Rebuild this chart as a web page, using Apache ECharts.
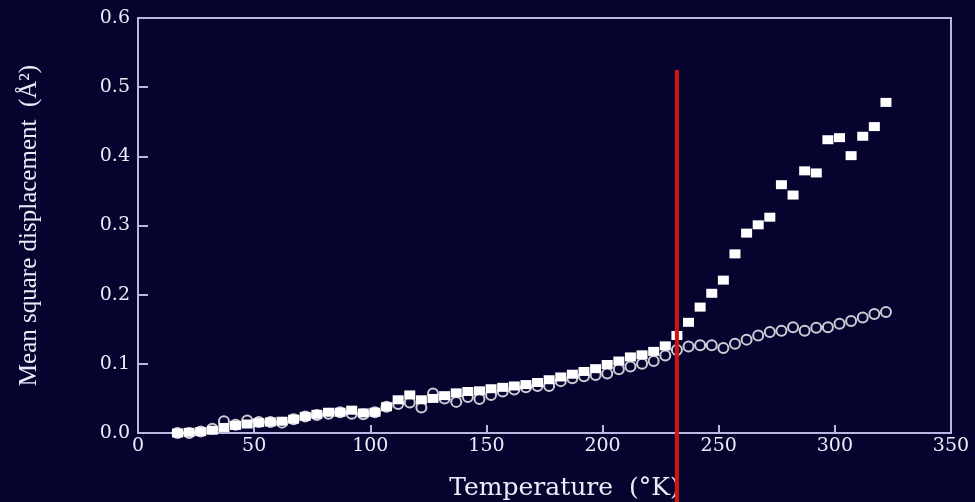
<!DOCTYPE html>
<html>
<head>
<meta charset="utf-8">
<script src="https://cdn.jsdelivr.net/npm/echarts@6/dist/echarts.min.js"></script>
<style>
  html, body { margin: 0; padding: 0; background: #06042f; }
  #chart { width: 975px; height: 502px; }
</style>
</head>
<body>
<div id="chart"></div>
<script>
// temperatures (K), one reading every ~5 K
var temps = [17, 22, 27, 32, 37, 42, 47, 52, 57, 62, 67, 72, 77, 82, 87, 92, 97, 102, 107, 112,
             117, 122, 127, 132, 137, 142, 147, 152, 157, 162, 167, 172, 177, 182, 187, 192, 197, 202, 207, 212,
             217, 222, 227, 232, 237, 242, 247, 252, 257, 262, 267, 272, 277, 282, 287, 292, 297, 302, 307, 312,
             317, 322];
// filled squares
var msdSquares = [0.000, 0.001, 0.002, 0.004, 0.008, 0.011, 0.013, 0.015, 0.016, 0.017, 0.020, 0.024, 0.027, 0.030, 0.030, 0.033, 0.029, 0.030, 0.038, 0.048,
                  0.055, 0.048, 0.050, 0.054, 0.058, 0.060, 0.061, 0.064, 0.066, 0.068, 0.070, 0.073, 0.077, 0.081, 0.085, 0.089, 0.093, 0.099, 0.104, 0.110,
                  0.113, 0.118, 0.126, 0.141, 0.160, 0.182, 0.202, 0.221, 0.259, 0.289, 0.301, 0.312, 0.359, 0.344, 0.379, 0.376, 0.424, 0.427, 0.401, 0.429,
                  0.443, 0.478];
// open circles
var msdCircles = [0.000, 0.000, 0.002, 0.006, 0.017, 0.012, 0.018, 0.016, 0.016, 0.015, 0.020, 0.024, 0.026, 0.028, 0.030, 0.028, 0.027, 0.030, 0.038, 0.042,
                  0.044, 0.037, 0.057, 0.050, 0.045, 0.052, 0.049, 0.055, 0.060, 0.063, 0.066, 0.068, 0.068, 0.075, 0.079, 0.082, 0.084, 0.086, 0.092, 0.096,
                  0.100, 0.104, 0.112, 0.120, 0.125, 0.127, 0.127, 0.123, 0.129, 0.135, 0.141, 0.146, 0.148, 0.153, 0.148, 0.152, 0.153, 0.158, 0.162, 0.167,
                  0.172, 0.175];
var xTicks = [0, 50, 100, 150, 200, 250, 300, 350];
var yTicks = [0.0, 0.1, 0.2, 0.3, 0.4, 0.5, 0.6];
// red marker line: temperature and how high it reaches
var redLineTemp = 232;
var redLineTop = 0.525;

function pairs(xs, ys) {
    var out = [];
    for (var i = 0; i < xs.length; i++) out.push([xs[i], ys[i]]);
    return out;
}

var chart = echarts.init(document.getElementById('chart'));
var axisCol = '#b8b8e0';
var textCol = '#ececf8';
var serif = '"DejaVu Serif", "Liberation Serif", serif';

var option = {
    backgroundColor: '#06042f',
    animation: false,
    grid: {
        left: 138, right: 24, top: 18, bottom: 69,
        outerBoundsMode: 'none',
        show: true, borderColor: axisCol, borderWidth: 2
    },
    xAxis: {
        type: 'value',
        min: xTicks[0], max: xTicks[xTicks.length - 1], interval: 50,
        name: 'Temperature  (°K)',
        nameLocation: 'middle', nameGap: 43,
        nameTextStyle: { color: textCol, fontFamily: serif, fontSize: 25, padding: [0, 0, 0, 40] },
        axisLine: { lineStyle: { color: axisCol, width: 2 } },
        axisTick: { inside: true, length: 8, lineStyle: { color: axisCol, width: 2 } },
        axisLabel: { color: textCol, fontFamily: serif, fontSize: 19, margin: 4 },
        splitLine: { show: false }
    },
    yAxis: {
        type: 'value',
        min: yTicks[0], max: yTicks[yTicks.length - 1], interval: 0.1,
        name: 'Mean square displacement  (Å²)',
        nameLocation: 'middle', nameGap: 96,
        nameTextStyle: { color: textCol, fontFamily: '"Liberation Serif", serif', fontSize: 25 },
        axisLine: { lineStyle: { color: axisCol, width: 2 } },
        axisTick: { inside: true, length: 10, lineStyle: { color: axisCol, width: 2 } },
        axisLabel: {
            color: textCol, fontFamily: serif, fontSize: 19, margin: 8,
            formatter: function (v) { return v.toFixed(1); }
        },
        splitLine: { show: false }
    },
    series: [
        {
            name: 'circles',
            type: 'scatter',
            data: pairs(temps, msdCircles),
            symbol: 'circle',
            symbolSize: 10,
            itemStyle: { color: 'rgba(0,0,0,0)', borderColor: '#ffffff', borderWidth: 2 },
            z: 2
        },
        {
            name: 'squares',
            type: 'scatter',
            data: pairs(temps, msdSquares),
            symbol: 'rect',
            symbolSize: [11, 9],
            itemStyle: { color: '#ffffff', opacity: 1 },
            z: 3
        }
    ]
};
chart.setOption(option);

// red vertical line, placed through the chart's own scales
var pTop = chart.convertToPixel({ gridIndex: 0 }, [redLineTemp, redLineTop]);
chart.setOption({
    graphic: [{
        type: 'line',
        shape: { x1: pTop[0], y1: pTop[1], x2: pTop[0], y2: chart.getHeight() },
        style: { stroke: '#d41414', lineWidth: 4 },
        z: 10
    }]
});
</script>
</body>
</html>
